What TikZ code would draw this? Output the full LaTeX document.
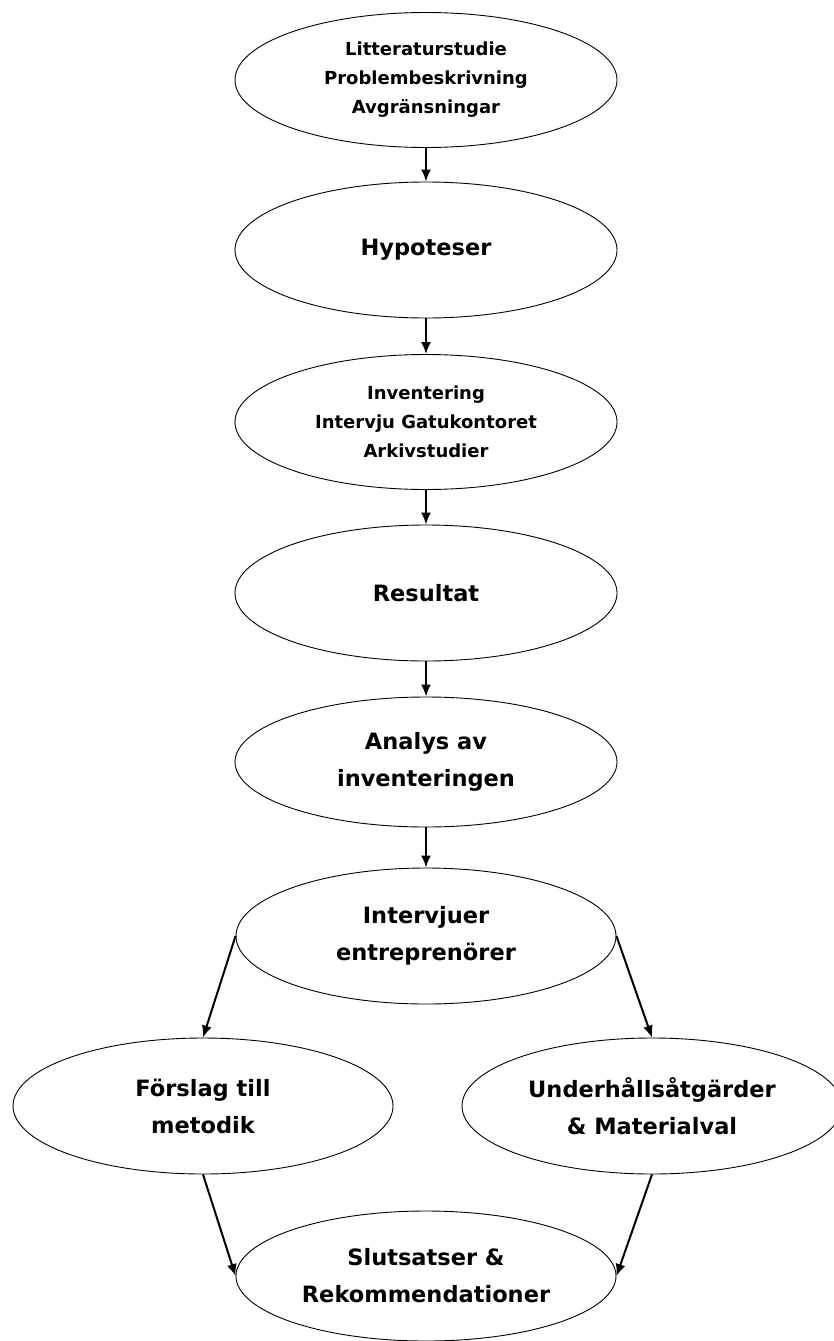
\documentclass[tikz,border=0pt]{standalone}
\usepackage{fontspec}
\setmainfont{DejaVu Sans}
\usetikzlibrary{shapes.geometric,arrows.meta}
\begin{document}
\begin{tikzpicture}[x=1pt,y=-1pt,
  ell/.style={draw=black, ellipse, line width=0.9pt, inner sep=0pt, align=center, text=black},
  big/.style={ell, font=\bfseries\fontsize{22.5}{37}\selectfont},
  small/.style={ell, font=\bfseries\fontsize{18}{29}\selectfont},
  arr/.style={-{Latex[length=12pt,width=10pt]}, line width=2pt, black}]
\useasboundingbox (0,0) rectangle (834,1341);
\node[small, minimum width=382pt, minimum height=135pt] (n1) at (426,80)
  {Litteraturstudie\\Problembeskrivning\\Avgränsningar};
\node[big, minimum width=382pt, minimum height=136pt] (n2) at (426,250) {Hypoteser};
\node[small, minimum width=382pt, minimum height=135pt] (n3) at (426,422)
  {Inventering\\Intervju Gatukontoret\\Arkivstudier};
\node[big, minimum width=382pt, minimum height=136pt] (n4) at (426,593) {Resultat};
\node[big, minimum width=382pt, minimum height=130pt] (n5) at (426,762)
  {Analys av\\inventeringen};
\node[big, minimum width=380pt, minimum height=136pt] (n6) at (426,936)
  {Intervjuer\\entreprenörer};
\node[big, minimum width=380pt, minimum height=136pt] (n7) at (203,1106)
  {Förslag till\\metodik};
\node[big, minimum width=380pt, minimum height=136pt] (n8) at (652,1106)
  {Underhållsåtgärder\\\& Materialval};
\node[big, minimum width=380pt, minimum height=130pt] (n9) at (426,1276)
  {Slutsatser \&\\Rekommendationer};
\draw[arr] (n1.south) -- (n2.north);
\draw[arr] (n2.south) -- (n3.north);
\draw[arr] (n3.south) -- (n4.north);
\draw[arr] (n4.south) -- (n5.north);
\draw[arr] (n5.south) -- (n6.north);
\draw[arr] (n6.west) -- (n7.north);
\draw[arr] (n6.east) -- (n8.north);
\draw[arr] (n7.south) -- (n9.west);
\draw[arr] (n8.south) -- (n9.east);
\end{tikzpicture}
\end{document}
